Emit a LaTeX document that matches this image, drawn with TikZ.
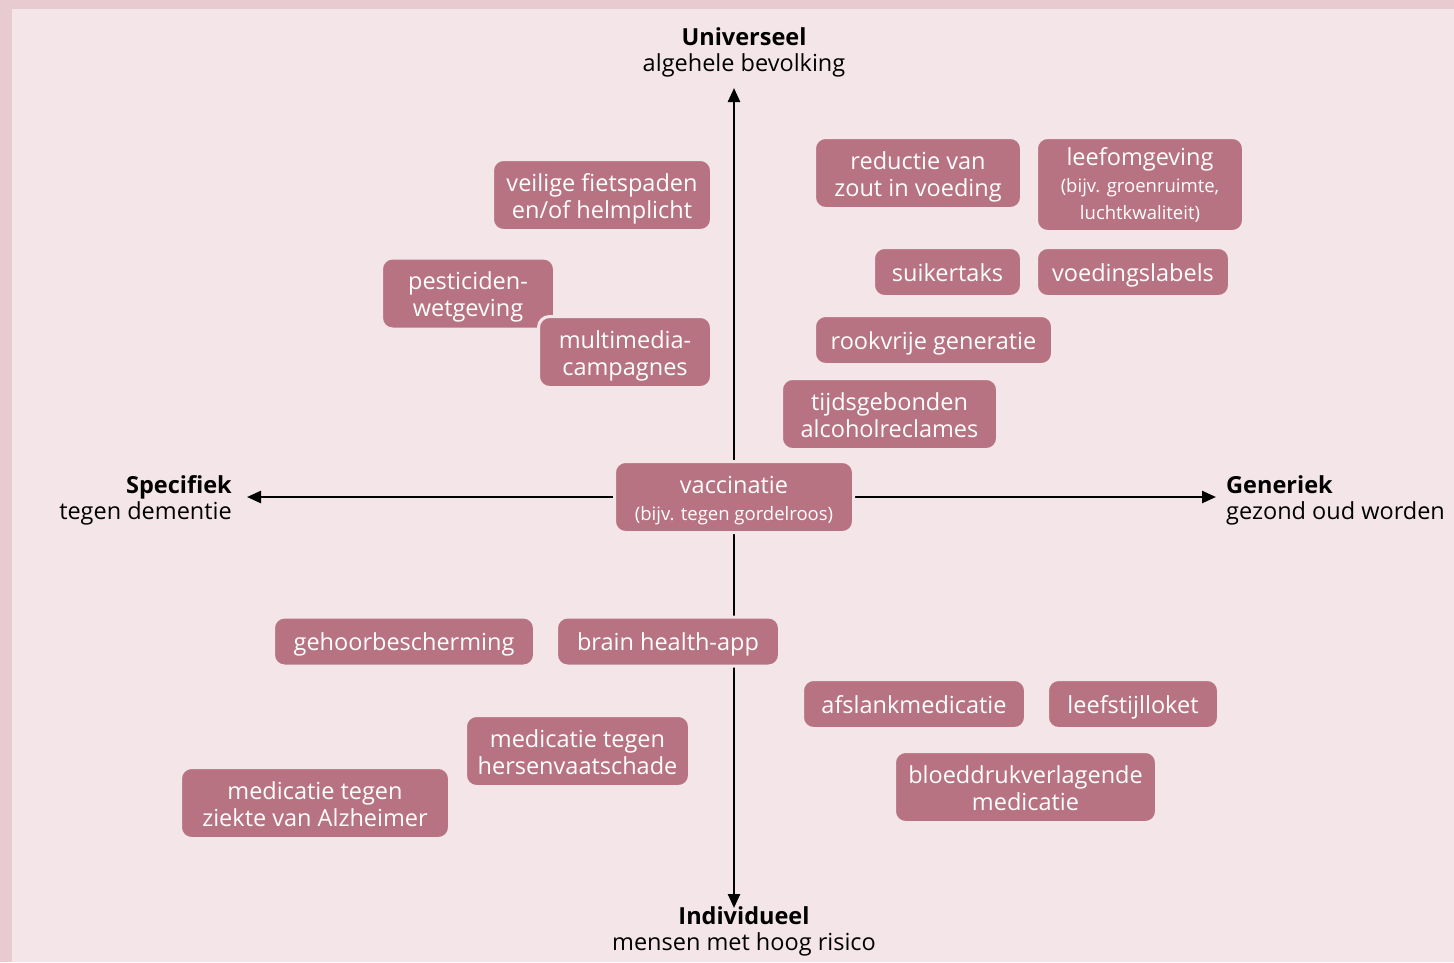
\documentclass[tikz,border=0pt]{standalone}
\usepackage{fontspec}
\setmainfont{Open Sans}
\usetikzlibrary{arrows.meta}
\definecolor{bandpink}{HTML}{E8CBD1}
\definecolor{bgpink}{HTML}{F4E5E8}
\definecolor{boxrose}{HTML}{B87382}

\begin{document}
\begin{tikzpicture}[x=1pt,y=-1pt,
      measure/.style={fill=boxrose, draw=bgpink, line width=3pt, rounded corners=11pt,
        text=white, align=center, inner xsep=10pt, inner ysep=4pt, minimum height=49pt,
        text height=23pt, text depth=4.4pt, font=\fontsize{23.5}{27}\selectfont},
      measure2/.style={measure, minimum height=71pt, text height=53.6pt, text depth=7pt},
      axislabel/.style={align=center, inner sep=0pt, font=\fontsize{23.5}{26}\selectfont},
      axis/.style={line width=2.4pt, {Triangle[length=14pt,width=12pt]}-{Triangle[length=14pt,width=12pt]}}
    ]
    % achtergrond
    \useasboundingbox (0,0) rectangle (1454,962);
    \fill[bandpink] (0,0) rectangle (1454,962);
    \fill[bgpink] (12,9) rectangle (1454,962);

    % assen
    \coordinate (toptip) at (734,88);
    \coordinate (bottomtip) at (734,908);
    \coordinate (lefttip) at (247,497);
    \coordinate (righttip) at (1216,497);
    \draw[axis] (toptip) -- (bottomtip);
    \draw[axis] (lefttip) -- (righttip);

    \node[axislabel] (universeel) at (744,52) {\textbf{Universeel}\\algehele bevolking};
    \node[axislabel] (individueel) at (744,931) {\textbf{Individueel}\\mensen met hoog risico};
    \node[axislabel, align=right, anchor=east] (specifiek) at (232,500) {\textbf{Specifiek}\\tegen dementie};
    \node[axislabel, align=left, anchor=west] (generiek) at (1226,500) {\textbf{Generiek}\\gezond oud worden};

    % maatregelen
    \node[measure2, minimum width=219pt] (fietspaden) at (602,195) {veilige fietspaden\\en/of helmplicht};
    \node[measure2, minimum width=173pt] (pesticiden) at (468,293.5) {pesticiden-\\wetgeving};
    \node[measure2, minimum width=173pt] (multimedia) at (625,352) {multimedia-\\campagnes};
    \node[measure2, minimum width=207pt] (zout) at (918,173) {reductie van\\zout in voeding};
    \node[measure, minimum width=207pt, minimum height=94pt, text height=76pt, text depth=7pt] (leefomgeving) at (1140,184.5)
      {leefomgeving\\{\fontsize{18.5}{27}\selectfont (bijv. groenruimte,}\\{\fontsize{18.5}{27}\selectfont luchtkwaliteit)}};
    \node[measure, minimum width=148pt] (suikertaks) at (947.5,272) {suikertaks};
    \node[measure, minimum width=193pt] (voedingslabels) at (1133,272) {voedingslabels};
    \node[measure, minimum width=238pt] (rookvrij) at (933.5,340) {rookvrije generatie};
    \node[measure2, minimum width=216pt] (alcohol) at (889.5,414) {tijdsgebonden\\alcoholreclames};
    \node[measure2, minimum width=239pt, text height=53pt] (vaccinatie) at (734,497)
      {vaccinatie\\{\fontsize{18.5}{28}\selectfont (bijv. tegen gordelroos)}};
    \node[measure, minimum width=261pt] (gehoor) at (404,641.5) {gehoorbescherming};
    \node[measure, minimum width=223pt] (brainapp) at (668,641.5) {brain health-app};
    \node[measure, minimum width=223pt] (afslank) at (914,704) {afslankmedicatie};
    \node[measure, minimum width=171pt] (leefstijl) at (1133,704) {leefstijlloket};
    \node[measure2, minimum width=224pt] (hersenvaat) at (577.5,751) {medicatie tegen\\hersenvaatschade};
    \node[measure2, minimum width=269pt] (alzheimer) at (315,803) {medicatie tegen\\ziekte van Alzheimer};
    \node[measure2, minimum width=262pt] (bloeddruk) at (1025.5,787) {bloeddrukverlagende\\medicatie};
  \end{tikzpicture}
\end{document}
